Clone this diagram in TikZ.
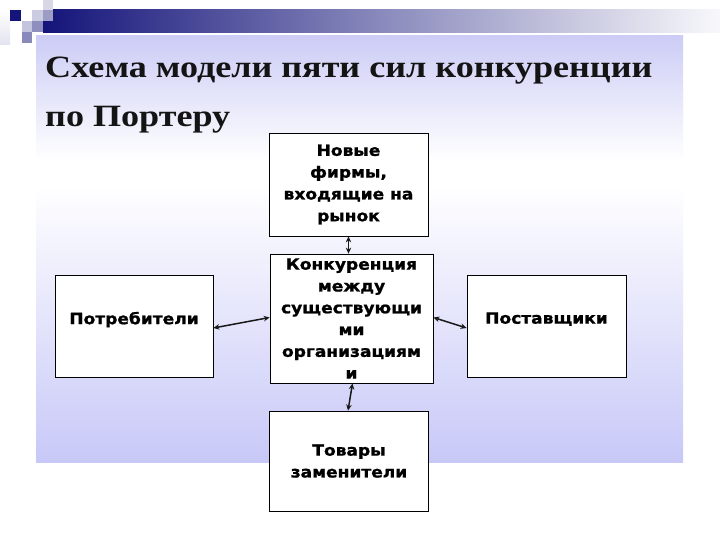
\documentclass[tikz,border=0pt]{standalone}
\usepackage{fontspec}
\usetikzlibrary{arrows.meta}
\newfontfamily\boxfont[FakeStretch=1.1,FakeBold=1.2]{DejaVu Sans}
\newfontfamily\titlefont[FakeStretch=1.165]{Liberation Serif}
\definecolor{navy}{HTML}{14147A}
\definecolor{lav}{HTML}{C8C8F8}
\definecolor{lavtop}{HTML}{CCCCF6}
\tikzset{
  box/.style={draw=black, line width=0.8pt, fill=white, align=center,
    font=\boxfont\bfseries\fontsize{15.5}{21.8}\selectfont, inner sep=2pt},
  link/.style={draw=black!90, line width=1.5pt,
    {Stealth[length=6pt,width=5.5pt]}-{Stealth[length=6pt,width=5.5pt]}}
}
\begin{document}
\begin{tikzpicture}[x=1pt,y=-1pt]
\useasboundingbox (0,0) rectangle (720,540);
\fill[white] (0,0) rectangle (720,540);
% decorative band and squares
\shade[left color=navy, right color=navy!3, middle color=navy!50] (43,10) rectangle (720,33);
\shade[top color=white, bottom color=navy!12] (0,10) rectangle (10,45);
\fill[navy] (10,10) rectangle (21,21);
\fill[navy!22] (32,10) rectangle (43,21);
\fill[navy!17] (43,0) rectangle (53,10);
\fill[navy!42] (43,10) rectangle (53,21);
\fill[navy!25] (22,21) rectangle (32,32);
\fill[navy!48] (32,21) rectangle (43,32);
\fill[navy!50] (22,32) rectangle (32,43);
% panel
\shade[top color=lavtop, bottom color=white] (36,36) rectangle (683,160);
\fill[white] (36,160) rectangle (683,185);
\shade[top color=white, bottom color=lav] (36,185) rectangle (683,462);
% title
\node[anchor=base west, inner sep=0pt, font=\titlefont\bfseries\fontsize{31}{31}\selectfont, text=black!92] (t1) at (45,78) {Схема модели пяти сил конкуренции};
\node[anchor=base west, inner sep=0pt, font=\titlefont\bfseries\fontsize{31}{31}\selectfont, text=black!92] (t2) at (45,127) {по Портеру};
% boxes
\node[box, minimum width=159pt, minimum height=103pt] (new) at (348.5,184.5) {Новые\\фирмы,\\входящие на\\рынок};
\node[box, minimum width=163pt, minimum height=129pt] (core) at (351.5,318.5) {Конкуренция\\между\\существующи\\ми\\организациям\\и};
\node[box, minimum width=158pt, minimum height=102pt, text depth=16pt] (cons) at (134,326) {Потребители};
\node[box, minimum width=159pt, minimum height=102pt, text depth=16pt] (supp) at (546.5,326) {Поставщики};
\node[box, minimum width=159pt, minimum height=100pt] (subs) at (349,461) {Товары\\заменители};
% connectors
\draw[link] (new.south) -- (core.north -| new.south);
\draw[link] ([yshift=-2pt]cons.east) -- ([yshift=1pt]core.west);
\draw[link] ([yshift=1pt]core.east) -- ([yshift=-2pt]supp.east -| supp.west);
\draw[link] ([xshift=1pt]core.south) -- ([xshift=-1pt]subs.north);
\end{tikzpicture}
\end{document}
